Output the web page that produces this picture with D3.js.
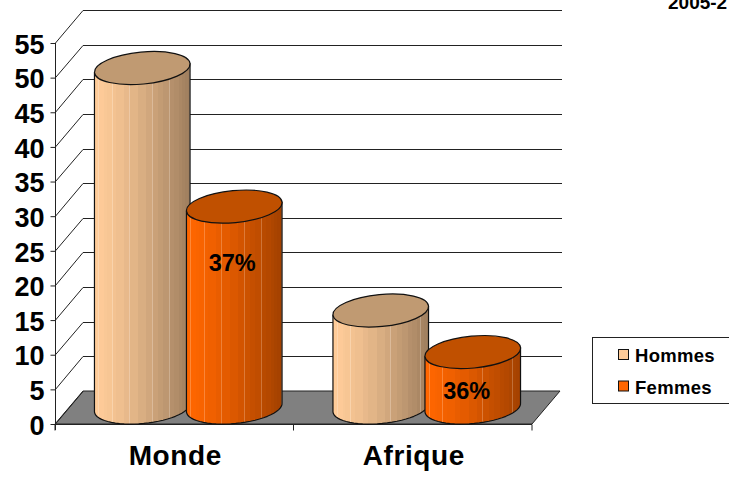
<!DOCTYPE html>
<html lang="fr">

<head>
  <meta charset="UTF-8" />
  <title>Monde / Afrique</title>
  <script src="https://d3js.org/d3.v7.min.js"></script>
  <style>
    body {
      margin: 0;
      padding: 0;
      background: #fff;
      overflow: hidden;
    }

    text {
      font-family: "Liberation Sans", Arial, sans-serif;
      font-weight: bold;
      fill: #000;
    }
  </style>
</head>

<body>
  <svg width="729" height="477"></svg>

  <script>
    // valeurs
    const categories = ["Monde", "Afrique"];
    const seriesNames = ["Hommes", "Femmes"];
    const hommes = [49, 14];
    const femmes = [29, 8];
    const percentLabels = ["37%", "36%"];
    const yTicks = [0, 5, 10, 15, 20, 25, 30, 35, 40, 45, 50, 55];

    const palette = {
      Hommes: { light: "#ffcc99", dark: "#9c7c5c", top: "#c09a72" },
      Femmes: { light: "#ff6600", dark: "#a04000", top: "#c05000" }
    };

    const svg = d3.select("svg");

    // repere pseudo 3D d'Excel
    const depthX = 28, depthY = -33;
    const y = d3.scaleLinear().domain([0, 55]).range([424, 43]);
    const x0 = d3.scaleBand().domain(categories).range([55, 532]);
    const x1 = d3.scalePoint().domain(seriesNames).range([-46, 46]);
    const rx = 48, ry = 16, tilt = -5.4;
    const tiltRad = tilt * Math.PI / 180;

    const defs = svg.append("defs");

    // degrade a facettes, comme le cylindre d'origine
    const facetWidths = [3, 2, 5, 3, 6, 4, 8, 6, 9, 8, 7, 6, 5, 7, 4, 5, 4, 3, 3, 2];
    const total = d3.sum(facetWidths);
    seriesNames.forEach(name => {
      const color = d3.interpolateRgb(palette[name].light, palette[name].dark);
      const grad = defs.append("linearGradient")
        .attr("id", "grad-" + name)
        .attr("x1", 0).attr("x2", 1).attr("y1", 0).attr("y2", 0);
      let acc = 0;
      facetWidths.forEach((w, i) => {
        const t = Math.pow(acc / total, 1.25);
        const from = acc / total;
        acc += w;
        const to = acc / total;
        const c = color(t);
        grad.append("stop").attr("offset", from).attr("stop-color", c);
        // filet clair entre certaines facettes
        const edge = i % 3 === 1 ? d3.interpolateRgb(c, "#fff")(0.22) : c;
        grad.append("stop").attr("offset", to - 0.8 / 96).attr("stop-color", c);
        grad.append("stop").attr("offset", to - 0.8 / 96).attr("stop-color", edge);
        grad.append("stop").attr("offset", to).attr("stop-color", edge);
      });
    });

    // sol
    const floor = [[55, 424], [532, 424], [532 + depthX, 424 + depthY], [55 + depthX, 424 + depthY]];
    svg.append("polygon")
      .attr("points", floor.join(" "))
      .attr("fill", "#808080")
      .attr("stroke", "#222")
      .attr("stroke-width", 1);

    // grille du fond et du mur gauche
    const grid = svg.append("g").attr("fill", "none").attr("stroke", "#222").attr("stroke-width", 1);
    yTicks.slice(1).concat([0]).forEach(v => {
      const yy = Math.round(y(v) + depthY) + 0.5;
      if (v > 0) {
        grid.append("line")
          .attr("x1", 55 + depthX).attr("y1", yy)
          .attr("x2", 532 + depthX + 2).attr("y2", yy);
      }
      grid.append("line")
        .attr("x1", 55.5).attr("y1", y(v))
        .attr("x2", 55 + depthX).attr("y2", yy);
    });

    // axes
    const axisLeft = d3.axisLeft(y).tickValues(yTicks).tickSize(5).tickPadding(6);
    const gy = svg.append("g").attr("transform", "translate(55.5,0)").call(axisLeft);
    gy.select(".domain").attr("d", `M0,${y(55)}V${y(0) + 6}`).attr("stroke", "#222");
    gy.selectAll(".tick line").attr("stroke", "#222");
    gy.selectAll("text").style("font-size", "27px").attr("fill", "#000").attr("dy", "0.38em");

    const axisBottom = d3.axisBottom(x0).tickSize(0);
    const gx = svg.append("g").attr("transform", "translate(0,424.5)").call(axisBottom);
    gx.select(".domain").attr("stroke", "#222").attr("d", "M55,0H532");
    gx.selectAll("text")
      .style("font-size", "28px")
      .style("letter-spacing", "0.6px")
      .attr("y", 0).attr("dy", 0)
      .attr("transform", "translate(1,40.5)");
    x0.domain().concat(["end"]).forEach((c, i) => {
      const tx = c === "end" ? x0.range()[1] : x0(c);
      gx.append("line").attr("x1", tx).attr("x2", tx).attr("y1", 0).attr("y2", 6).attr("stroke", "#222");
    });

    // cylindres
    function ellipsePoint(cx, cy, a) {
      const ex = rx * Math.cos(a), ey = ry * Math.sin(a);
      return [cx + ex * Math.cos(tiltRad) - ey * Math.sin(tiltRad),
              cy + ex * Math.sin(tiltRad) + ey * Math.cos(tiltRad)];
    }

    function drawCylinder(group, name, cat, value) {
      const cx = x0(cat) + x0.bandwidth() / 2 + x1(name) + depthX / 2;
      const baseY = y(0) + depthY / 2;
      const topY = y(value) + depthY / 2;

      // face visible : moitie basse du haut -> moitie basse du pied
      const angles = d3.range(0, 180.1, 6).map(d => d * Math.PI / 180);
      const left = ellipsePoint(cx, topY, Math.PI);
      const right = ellipsePoint(cx, topY, 0);
      const basePts = angles.map(a => ellipsePoint(cx, baseY, a));
      const path = d3.path();
      path.moveTo(right[0], right[1]);
      basePts.forEach((p, i) => {
        if (i === 0) path.lineTo(right[0], p[1]);
        else path.lineTo(p[0], p[1]);
      });
      path.lineTo(left[0], left[1]);
      path.closePath();

      group.append("path")
        .attr("d", path.toString())
        .attr("fill", `url(#grad-${name})`)
        .attr("stroke", "#111")
        .attr("stroke-width", 1.2)
        .attr("stroke-linejoin", "round");

      group.append("ellipse")
        .attr("rx", rx).attr("ry", ry)
        .attr("transform", `translate(${cx},${topY}) rotate(${tilt})`)
        .attr("fill", palette[name].top)
        .attr("stroke", "#111")
        .attr("stroke-width", 1.2);

      return { cx, topY };
    }

    const labelOffsetsX = [-2, -6];
    const labelOffsetsY = [58, 41];
    const marks = svg.append("g");
    categories.forEach((cat, i) => {
      const g = marks.append("g");
      drawCylinder(g, "Hommes", cat, hommes[i]);
      const f = drawCylinder(g, "Femmes", cat, femmes[i]);
      g.append("text")
        .attr("x", f.cx + labelOffsetsX[i])
        .attr("y", f.topY + labelOffsetsY[i])
        .attr("text-anchor", "middle")
        .attr("dominant-baseline", "middle")
        .style("font-size", "23.5px")
        .text(percentLabels[i]);
    });

    // legende
    const legend = svg.append("g");
    legend.append("rect")
      .attr("x", 592.5).attr("y", 337.5)
      .attr("width", 160).attr("height", 66)
      .attr("fill", "#fff").attr("stroke", "#222");
    seriesNames.forEach((name, i) => {
      const ly = 349.5 + i * 31.5;
      legend.append("rect")
        .attr("x", 618.5).attr("y", ly)
        .attr("width", 10).attr("height", 10)
        .attr("fill", palette[name].light)
        .attr("stroke", "#111");
      legend.append("text")
        .attr("x", 635).attr("y", ly + 12.5)
        .style("font-size", "18.5px")
        .style("letter-spacing", "0.3px")
        .text(name);
    });

    // titre coupe par le bord de l'image, comme sur la reference
    svg.append("text")
      .attr("x", 668).attr("y", 9)
      .style("font-size", "19px")
      .text("2005-2");
  </script>
</body>

</html>
